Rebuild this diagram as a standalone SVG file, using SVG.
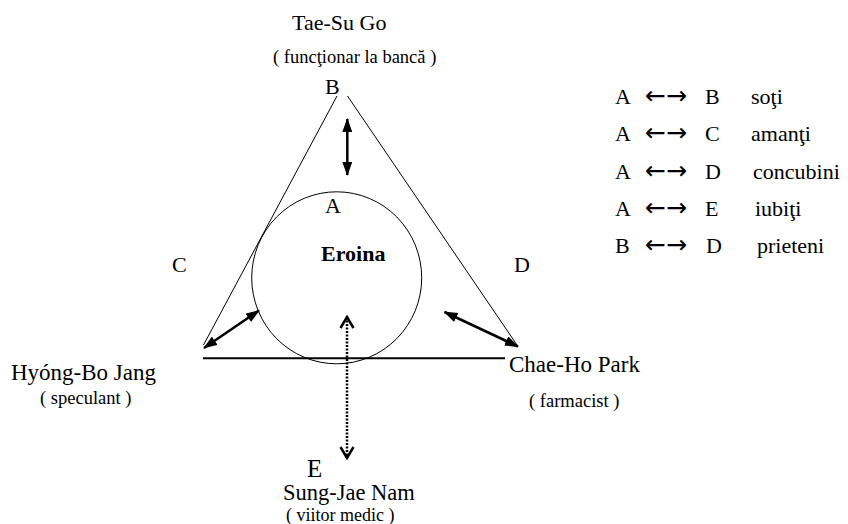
<svg xmlns="http://www.w3.org/2000/svg" width="848" height="524" viewBox="0 0 848 524">
<defs>
<style>
text{font-family:"Liberation Serif","Times New Roman",serif;fill:#000}
.nm{font-size:23px}
.sub{font-size:18.5px}
.lt{font-size:22px}
.b{font-weight:bold}
.arr{font-family:"DejaVu Sans",sans-serif;font-size:25px}
.thin{stroke:#000;stroke-width:1;fill:none}
.solid{stroke:#000;stroke-width:2.5;fill:none}
.dot{stroke:#000;stroke-width:2.5;fill:none;stroke-dasharray:2 1.5}
</style>
<marker id="head" viewBox="0 0 14 10" refX="13" refY="5" markerWidth="14" markerHeight="10" markerUnits="userSpaceOnUse" orient="auto-start-reverse">
<path d="M0,0 L14,5 L0,10 z" fill="#000"/>
</marker>
<marker id="chev" viewBox="-2 -2 15 17" refX="11" refY="6.5" markerWidth="15" markerHeight="17" markerUnits="userSpaceOnUse" orient="auto-start-reverse">
<path d="M0,0 L11,6.5 L0,13" fill="none" stroke="#000" stroke-width="2.5"/>
</marker>
</defs>
<rect width="848" height="524" fill="#fff"/>

<g id="shapes">
<line class="thin" x1="337" y1="96" x2="203.5" y2="345"/>
<line class="thin" x1="347.5" y1="96" x2="517" y2="345"/>
<line x1="203" y1="358.3" x2="505" y2="358.3" stroke="#000" stroke-width="2"/>
</g>

<g id="node-A">
<ellipse class="thin" cx="336.7" cy="277.8" rx="85" ry="86"/>
<text class="lt" x="325" y="213">A</text>
<text class="lt b" x="321" y="261">Eroina</text>
</g>

<g id="node-B">
<text class="nm" x="292" y="30" style="font-size:22px">Tae-Su Go</text>
<text class="sub" x="273" y="63">( funcţionar la bancă )</text>
<text class="lt" x="325" y="94">B</text>
</g>

<g id="node-C">
<text class="lt" x="172" y="272">C</text>
<text class="nm" x="11" y="380">Hyóng-Bo Jang</text>
<text class="sub" x="40" y="404">( speculant )</text>
</g>

<g id="node-D">
<text class="lt" x="514" y="272">D</text>
<text class="nm" x="509" y="372">Chae-Ho Park</text>
<text class="sub" x="529" y="407">( farmacist )</text>
</g>

<g id="node-E">
<text x="307" y="477" style="font-size:25px">E</text>
<text class="nm" x="283" y="500" style="font-size:22.5px">Sung-Jae Nam</text>
<text class="sub" x="286" y="521" style="font-size:18px">( viitor medic )</text>
</g>

<g id="connectors">
<line class="solid" x1="347.3" y1="119" x2="347.3" y2="175" marker-start="url(#head)" marker-end="url(#head)"/>
<line class="solid" x1="204" y1="348" x2="259" y2="310.5" marker-start="url(#head)" marker-end="url(#head)"/>
<line class="solid" x1="444.5" y1="312" x2="518" y2="346.5" marker-start="url(#head)" marker-end="url(#head)"/>
<line class="dot" x1="347" y1="317" x2="347" y2="458" marker-start="url(#chev)" marker-end="url(#chev)"/>
</g>

<g id="legend">
<text class="lt" x="615" y="104">A</text><text class="arr" x="645" y="104">←→</text><text class="lt" x="705" y="104">B</text><text class="lt" x="751" y="104">soţi</text>
<text class="lt" x="615" y="141">A</text><text class="arr" x="645" y="141">←→</text><text class="lt" x="705" y="141">C</text><text class="lt" x="751" y="141">amanţi</text>
<text class="lt" x="615" y="179">A</text><text class="arr" x="645" y="179">←→</text><text class="lt" x="705" y="179">D</text><text class="lt" x="753" y="179">concubini</text>
<text class="lt" x="615" y="216">A</text><text class="arr" x="645" y="216">←→</text><text class="lt" x="705" y="216">E</text><text class="lt" x="755" y="216">iubiţi</text>
<text class="lt" x="615" y="253">B</text><text class="arr" x="645" y="253">←→</text><text class="lt" x="706" y="253">D</text><text class="lt" x="757" y="253">prieteni</text>
</g>
</svg>
